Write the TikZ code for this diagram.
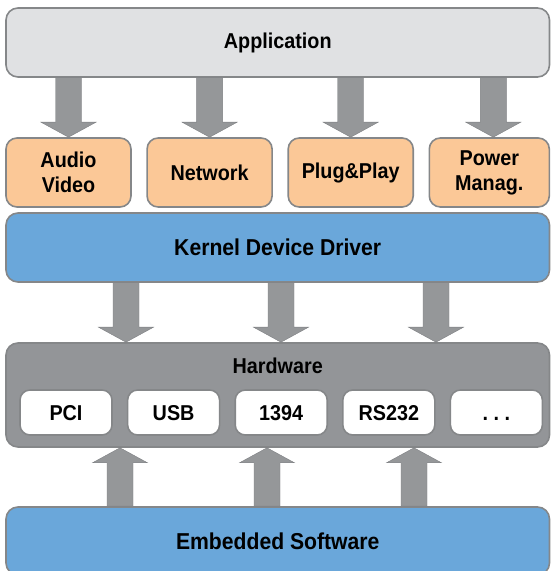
\documentclass[tikz,border=0pt]{standalone}
\usepackage{fontspec}
\setmainfont{Liberation Sans}[FakeStretch=0.92]
\usetikzlibrary{positioning,calc}

\definecolor{boxedge}{HTML}{858789}
\definecolor{appgray}{HTML}{E0E1E3}
\definecolor{servorange}{HTML}{FBC897}
\definecolor{driverblue}{HTML}{6AA7DA}
\definecolor{hwgray}{HTML}{939598}
\definecolor{arrowedge}{HTML}{7E8083}
\definecolor{arrowdark}{HTML}{959799}
\definecolor{arrowlight}{HTML}{D0D2D4}

\begin{document}
\begin{tikzpicture}
                [
                    x=1pt,
                    y=1pt,
                    node distance=14.5pt,
                    layer/.style={draw=boxedge, line width=1.6pt, rounded corners=12pt,
                                  inner sep=0pt, minimum width=543.5pt,
                                  font=\bfseries\fontsize{23}{25}\selectfont},
                    app layer/.style={layer, fill=appgray, minimum height=69pt,
                                      font=\bfseries\fontsize{21.5}{25}\selectfont},
                    driver layer/.style={layer, fill=driverblue, minimum height=69pt},
                    hw layer/.style={layer, fill=hwgray, minimum height=104pt},
                    service/.style={draw=boxedge, line width=1.6pt, rounded corners=11pt,
                                    fill=servorange, minimum width=125pt, minimum height=69pt,
                                    inner sep=0pt, align=center,
                                    font=\bfseries\fontsize{21.5}{25}\selectfont},
                    bus/.style={draw=boxedge, line width=1.6pt, rounded corners=10pt,
                                fill=white, minimum width=92pt, minimum height=45pt,
                                inner sep=0pt, text height=15.5pt, text depth=0pt,
                                font=\bfseries\fontsize{21.5}{25}\selectfont},
                    bigarrow/.style={draw=arrowedge, thin,
                                     left color=arrowdark, middle color=arrowlight, right color=arrowdark,
                                     to path={let \p1=(\tikztostart), \p2=(\tikztotarget),
                                              \n1={sign(\y2-\y1)} in
                                              (\x1-13,\y1) -- (\x1-13,\y2-15*\n1) -- (\x1-27.5,\y2-15*\n1)
                                              -- (\x1,\y2) -- (\x1+27.5,\y2-15*\n1) -- (\x1+13,\y2-15*\n1)
                                              -- (\x1+13,\y1) -- cycle}}
                ]
                \clip (0,0) rectangle (551,571);

                \node (app) [app layer] at (277.75,528.5) {Application};

                \node (av)  [service] at (68.5,398.5)        {Audio\\Video};
                \node (net) [service, right=of av]           {Network};
                \node (pnp) [service, right=of net]          {Plug\&Play};
                \node (pwr) [service, right=of pnp, minimum width=120pt] {Power\\Manag.};

                \node (kernel) [driver layer] at (277.75,323.5) {Kernel Device Driver};

                \node (hw) [hw layer] at (277.75,176) {};
                \node (hw label) [font=\bfseries\fontsize{21.5}{25}\selectfont]
                      at ([yshift=-24pt]hw.north) {Hardware};

                \node (pci)  [bus] at (66,158.5)             {PCI};
                \node (usb)  [bus, right=14pt of pci]        {USB};
                \node (fw)   [bus, right=14pt of usb]        {1394};
                \node (rs)   [bus, right=14pt of fw]         {RS232};
                \node (more) [bus, right=14pt of rs]         {.\ .\ .};

                \node (emb) [driver layer, minimum height=68pt] at (277.75,30) {Embedded Software};

                \coordinate (down 1) at (126,0);
                \coordinate (down 2) at (281,0);
                \coordinate (down 3) at (436,0);
                \coordinate (up 1)   at (120,0);
                \coordinate (up 2)   at (267,0);
                \coordinate (up 3)   at (414,0);

                \path
                (app.south -| av)  edge [bigarrow] (av.north)
                (app.south -| net) edge [bigarrow] (net.north)
                (app.south -| pnp) edge [bigarrow] (pnp.north)
                ([xshift=4pt]app.south -| pwr) edge [bigarrow] ([xshift=4pt]pwr.north)
                (kernel.south -| down 1) edge [bigarrow] (hw.north -| down 1)
                (kernel.south -| down 2) edge [bigarrow] (hw.north -| down 2)
                (kernel.south -| down 3) edge [bigarrow] (hw.north -| down 3)
                (emb.north -| up 1) edge [bigarrow] (hw.south -| up 1)
                (emb.north -| up 2) edge [bigarrow] (hw.south -| up 2)
                (emb.north -| up 3) edge [bigarrow] (hw.south -| up 3)
                ;

            \end{tikzpicture}
\end{document}
